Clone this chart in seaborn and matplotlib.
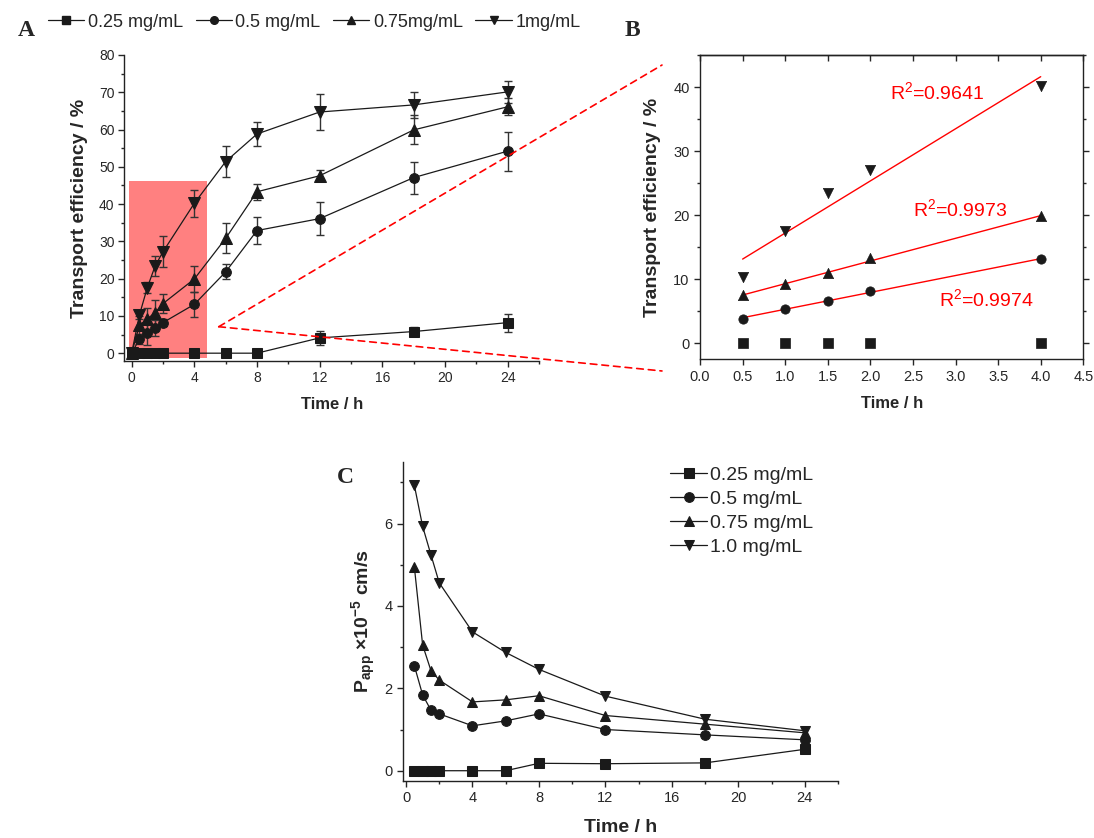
import matplotlib
matplotlib.use("Agg")
import matplotlib.pyplot as plt
import seaborn as sns
import numpy as np
import pandas as pd
from matplotlib.lines import Line2D
from matplotlib.patches import ConnectionPatch, Rectangle
from matplotlib.ticker import MultipleLocator

# ---------------- data ----------------
time_a = [0, 0.5, 1, 1.5, 2, 4, 6, 8, 12, 18, 24]
te_025 = [0, 0, 0, 0, 0, 0, 0, 0, 4.1, 5.8, 8.2]
te_05 = [0, 3.8, 5.4, 6.7, 8.2, 13.1, 21.8, 32.9, 36.1, 47.1, 54.2]
te_075 = [0, 7.5, 9.2, 10.9, 13.3, 19.9, 30.8, 43.3, 47.6, 59.9, 66.1]
te_1 = [0, 10.3, 17.6, 23.4, 27.2, 40.2, 51.4, 58.8, 64.7, 66.6, 70.1]
err_025 = [0, 0, 0, 0, 0, 0, 0, 0, 1.9, 1.1, 2.4]
err_05 = [0, 1.3, 3.1, 2.1, 1.0, 3.3, 2.0, 3.5, 4.4, 4.3, 5.2]
err_075 = [0, 2.4, 2.9, 3.3, 2.5, 3.5, 4.0, 2.2, 1.5, 3.9, 2.3]
err_1 = [0, 1.2, 1.4, 2.8, 4.2, 3.7, 4.1, 3.2, 4.8, 3.6, 3.0]
labels_a = ["0.25 mg/mL", "0.5 mg/mL", "0.75mg/mL", "1mg/mL"]

time_b = [0.5, 1, 1.5, 2, 4]
tb_025 = [0, 0, 0, 0, 0]
tb_05 = [3.8, 5.4, 6.6, 8.2, 13.1]
tb_075 = [7.5, 9.2, 10.9, 13.3, 19.8]
tb_1 = [10.3, 17.6, 23.4, 27.1, 40.2]
r2_labels = ["R$^2$=0.9641", "R$^2$=0.9973", "R$^2$=0.9974"]

time_c = [0.5, 1, 1.5, 2, 4, 6, 8, 12, 18, 24]
papp_025 = [0, 0, 0, 0, 0, 0, 0.18, 0.17, 0.19, 0.52]
papp_05 = [2.55, 1.84, 1.47, 1.38, 1.09, 1.21, 1.38, 1.00, 0.87, 0.75]
papp_075 = [4.95, 3.05, 2.43, 2.20, 1.67, 1.72, 1.82, 1.34, 1.13, 0.92]
papp_1 = [6.93, 5.93, 5.24, 4.56, 3.37, 2.87, 2.46, 1.81, 1.25, 0.97]
labels_c = ["0.25 mg/mL", "0.5 mg/mL", "0.75 mg/mL", "1.0 mg/mL"]

markers = ["s", "o", "^", "v"]

# ---------------- style ----------------
sns.set_theme(style="ticks")
plt.rcParams["font.family"] = ["Liberation Sans", "DejaVu Sans"]
plt.rcParams["mathtext.fontset"] = "custom"
plt.rcParams["mathtext.rm"] = "Liberation Sans"
plt.rcParams["mathtext.bf"] = "Liberation Sans:bold"
plt.rcParams["mathtext.default"] = "regular"
plt.rcParams["axes.linewidth"] = 1.0
plt.rcParams["axes.edgecolor"] = "#222222"

fig = plt.figure(figsize=(10.94, 8.38), dpi=100)
axA = fig.add_axes([0.1136, 0.5692, 0.3791, 0.3652])
axB = fig.add_axes([0.6399, 0.5712, 0.3503, 0.3632])
axC = fig.add_axes([0.3681, 0.068, 0.3979, 0.381])

# ---------------- Panel A ----------------
series_a = [te_025, te_05, te_075, te_1]
errs_a = [err_025, err_05, err_075, err_1]
axA.add_patch(Rectangle((-0.2, -1.4), 5.0, 47.6, facecolor="#ff8080",
                        edgecolor="none", zorder=0))
for vals, errs, m in zip(series_a, errs_a, markers):
    axA.errorbar(time_a, vals, yerr=errs, fmt="none", ecolor="#333333",
                 elinewidth=1.0, capsize=3, capthick=1.0, zorder=2)
    sns.lineplot(x=time_a, y=vals, ax=axA, color="k", marker=m,
                 markersize=8 if m in "^v" else 7, markeredgecolor="k",
                 linewidth=0.9, legend=False, zorder=3)
axA.set_xlim(-0.47, 26)
axA.set_ylim(-2.1, 80)
axA.xaxis.set_major_locator(MultipleLocator(4))
axA.xaxis.set_minor_locator(MultipleLocator(2))
axA.yaxis.set_major_locator(MultipleLocator(10))
axA.yaxis.set_minor_locator(MultipleLocator(5))
axA.tick_params(which="major", length=4, width=1, labelsize=10, pad=3)
axA.tick_params(which="minor", length=2.5, width=1)
sns.despine(ax=axA)
axA.set_xlabel("Time / h", fontsize=12, fontweight="bold", labelpad=9)
axA.set_ylabel("Transport efficiency / %", fontsize=14, fontweight="bold",
               labelpad=8)

# top legend for A
handles = [Line2D([], [], color="k", marker=m, markersize=5.5, lw=0.9)
           for m in markers]
fig.legend(handles, labels_a, loc="center left", bbox_to_anchor=(0.044, 0.9737),
           ncol=4, frameon=False, fontsize=13, handlelength=2.0,
           handletextpad=0.2, columnspacing=0.7, borderaxespad=0, borderpad=0)

# ---------------- Panel B ----------------
series_b = [tb_025, tb_05, tb_075, tb_1]
for vals, m in zip(series_b, markers):
    sns.scatterplot(x=time_b, y=vals, ax=axB, color="k", marker=m,
                    s=55 if m in "^v" else 45, edgecolor="k", linewidth=0.5,
                    legend=False, zorder=3)
for vals in [tb_05, tb_075, tb_1]:
    sns.regplot(x=np.array(time_b), y=np.array(vals), ax=axB, scatter=False,
                ci=None, truncate=True, color="red",
                line_kws={"lw": 1.0, "zorder": 2})
axB.text(2.23, 39.2, r2_labels[0], color="red", fontsize=14, ha="left", va="center")
axB.text(2.5, 21.0, r2_labels[1], color="red", fontsize=14, ha="left", va="center")
axB.text(2.8, 6.85, r2_labels[2], color="red", fontsize=14, ha="left", va="center")
axB.set_xlim(0, 4.5)
axB.set_ylim(-2.5, 45)
axB.xaxis.set_major_locator(MultipleLocator(0.5))
axB.xaxis.set_major_formatter(matplotlib.ticker.FormatStrFormatter("%.1f"))
axB.yaxis.set_major_locator(MultipleLocator(10))
axB.yaxis.set_minor_locator(MultipleLocator(5))
axB.tick_params(axis="x", which="major", length=4, width=1, labelsize=10.5,
                direction="out", top=False)
axB.tick_params(axis="y", which="both", width=1, labelsize=10.5, direction="out",
                left=True, right=True)
axB.tick_params(axis="y", which="major", length=4)
axB.tick_params(axis="y", which="minor", length=2.5)
secB = axB.secondary_xaxis("top")
secB.xaxis.set_major_locator(MultipleLocator(0.5))
secB.tick_params(direction="in", length=4, width=1, labeltop=False)
secB.spines["top"].set_linewidth(1.0)
axB.set_xlabel("Time / h", fontsize=12, fontweight="bold", labelpad=9)
axB.set_ylabel("Transport efficiency / %", fontsize=14, fontweight="bold",
               labelpad=9)

# ---------------- Panel C ----------------
series_c = [papp_025, papp_05, papp_075, papp_1]
for vals, m, lab in zip(series_c, markers, labels_c):
    sns.lineplot(x=time_c, y=vals, ax=axC, color="k", marker=m,
                 markersize=7.5 if m in "^v" else 7, markeredgecolor="k",
                 linewidth=0.9, label=lab)
axC.set_xlim(-0.2, 26)
axC.set_ylim(-0.25, 7.5)
axC.xaxis.set_major_locator(MultipleLocator(4))
axC.xaxis.set_minor_locator(MultipleLocator(2))
axC.yaxis.set_major_locator(MultipleLocator(2))
axC.yaxis.set_minor_locator(MultipleLocator(1))
axC.tick_params(which="major", length=4, width=1, labelsize=10.5)
axC.tick_params(which="minor", length=2.5, width=1)
sns.despine(ax=axC)
axC.set_xlabel("Time / h", fontsize=14, fontweight="bold", labelpad=10)
axC.set_ylabel(r"$\mathbf{P_{app}}$ ×$\mathbf{10^{-5}}$ cm/s", fontsize=14,
               fontweight="bold", labelpad=4)
axC.legend(loc="upper left", bbox_to_anchor=(0.6127, 0.4436),
           bbox_transform=fig.transFigure, frameon=False, fontsize=14,
           handlelength=1.9, handletextpad=0.15, labelspacing=0.33,
           borderaxespad=0, borderpad=0)

# ---------------- connectors & panel letters ----------------
for yb in [0.9224, 0.5573]:
    con = ConnectionPatch(xyA=(5.56, 7.1), coordsA=axA.transData,
                          xyB=(0.6051, yb), coordsB=fig.transFigure,
                          color="red", lw=1.2, linestyle=(0, (4, 3)))
    fig.add_artist(con)

for letter, (x, y) in zip(["A", "B", "C"], [(0.0165, 0.964), (0.571, 0.964), (0.308, 0.43)]):
    fig.text(x, y, letter, fontsize=17, fontweight="bold",
             family="Liberation Serif", ha="left", va="center")

fig.savefig("out.png", dpi=100)
